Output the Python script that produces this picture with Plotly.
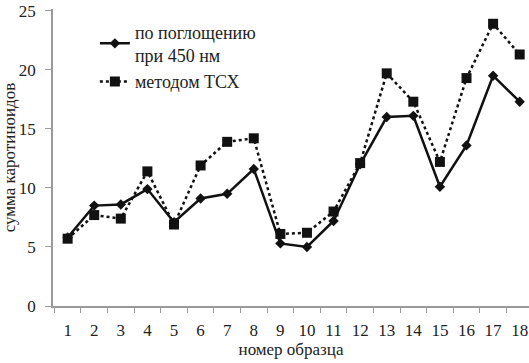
import plotly.graph_objects as go

samples = [str(i) for i in range(1, 19)]
absorb_450 = [5.8, 8.5, 8.6, 9.9, 7.1, 9.1, 9.5, 11.6, 5.3, 5.0, 7.2, 12.0, 16.0, 16.1, 10.1, 13.6, 19.5, 17.3]
tlc_method = [5.7, 7.7, 7.4, 11.4, 6.9, 11.9, 13.9, 14.2, 6.1, 6.2, 8.0, 12.1, 19.7, 17.3, 12.2, 19.3, 23.9, 21.3]
y_ticks = [0, 5, 10, 15, 20, 25]

font_family = "'Liberation Serif', 'DejaVu Serif', serif"

fig = go.Figure()
fig.add_trace(go.Scatter(
    x=samples, y=absorb_450, mode="lines+markers",
    name="по поглощению<br>при 450 нм",
    line=dict(color="#111111", width=2.5),
    marker=dict(symbol="diamond", size=8, color="#111111"),
))
fig.add_trace(go.Scatter(
    x=samples, y=tlc_method, mode="lines+markers",
    name="методом ТСХ",
    line=dict(color="#111111", width=2.5, dash="dot"),
    marker=dict(symbol="square", size=10, color="#111111"),
))

fig.update_layout(
    width=529, height=363,
    margin=dict(l=53, r=0, t=9, b=57),
    paper_bgcolor="white", plot_bgcolor="white",
    font=dict(family=font_family, size=17, color="#222222"),
    showlegend=True,
    legend=dict(x=0.088, y=0.985, xanchor="left", yanchor="top",
                bgcolor="rgba(0,0,0,0)", font=dict(size=18, family=font_family)),
    xaxis=dict(type="category", range=[-0.55, 17.35], tickson="boundaries",
               ticks="outside", ticklen=5, tickcolor="#999999",
               showline=True, linecolor="#999999", linewidth=1.5,
               showgrid=False, zeroline=False, automargin=False,
               ticklabelstandoff=8,
               tickfont=dict(size=17, family=font_family),
               title=dict(text="номер образца", font=dict(size=17, family=font_family), standoff=2)),
    yaxis=dict(range=[0, 25.15], tickvals=y_ticks, ticks="outside", ticklen=6,
               tickcolor="#999999", showline=True, linecolor="#999999", linewidth=1.5,
               showgrid=False, zeroline=False, automargin=False,
               ticklabelstandoff=6, ticklabeloverflow="allow",
               tickfont=dict(size=17, family=font_family),
               title=dict(text="сумма каротиноидов", font=dict(size=17, family=font_family), standoff=2)),
)

fig.write_html("out.html", config={"displayModeBar": False},
               post_script="document.body.style.margin='0';")
